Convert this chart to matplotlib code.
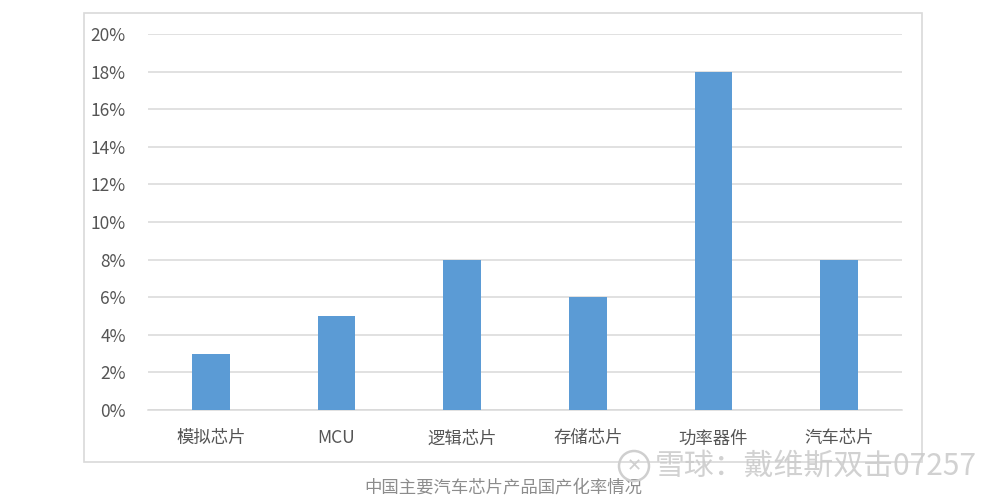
import matplotlib
matplotlib.use("Agg")
import matplotlib.pyplot as plt
from matplotlib.patches import Rectangle, Ellipse
from matplotlib.ticker import FuncFormatter, MultipleLocator

plt.rcParams['font.family'] = ['Noto Sans CJK SC', 'DejaVu Sans']

categories = ["模拟芯片", "MCU", "逻辑芯片", "存储芯片", "功率器件", "汽车芯片"]
values = [3, 5, 8, 6, 18, 8]
caption = "中国主要汽车芯片产品国产化率情况"
watermark = "雪球：戴维斯双击07257"

fig = plt.figure(figsize=(10.06, 5.0), dpi=100)
fig.patch.set_facecolor("white")

# outer chart border
fig.patches.append(Rectangle((0.0835, 0.076), 0.833, 0.898, transform=fig.transFigure,
                             fill=False, edgecolor="#d9d9d9", linewidth=1.2, zorder=0))

ax = fig.add_axes([0.1471, 0.18, 0.7495, 0.752])
x = range(len(categories))
ax.bar(x, values, width=0.30, color="#5B9BD5", zorder=3)
ax.set_xlim(-0.5, len(categories) - 0.5)
ax.set_ylim(0, 20)
ax.yaxis.set_major_locator(MultipleLocator(2))
ax.yaxis.set_major_formatter(FuncFormatter(lambda v, p: f"{int(v)}%"))
ax.grid(axis="y", color="#d9d9d9", linewidth=1.1, zorder=0)
ax.set_axisbelow(True)
for s in ["top", "right", "left"]:
    ax.spines[s].set_visible(False)
ax.spines["bottom"].set_color("#d9d9d9")
ax.spines["bottom"].set_linewidth(1.1)
ax.set_xticks(list(x))
ax.set_xticklabels(categories)
ax.tick_params(axis="both", length=0, colors="#555555", labelsize=12.5)
ax.tick_params(axis="x", pad=14)
ax.tick_params(axis="y", pad=16)

fig.text(0.5, 0.024, caption, ha="center", va="center", fontsize=12.5, color="#8c8c8c")

# watermark
cx, cy = 634 / 1006, 1 - 466 / 500
fig.patches.append(Ellipse((cx, cy), 30 / 1006, 30 / 500, transform=fig.transFigure,
                           fill=False, edgecolor="#cfcfcf", linewidth=1.8, zorder=5))
fig.text(cx, cy, "✕", ha="center", va="center", fontsize=13,
         color="#cfcfcf", family=["DejaVu Sans"])
fig.text(655 / 1006, cy, watermark, ha="left", va="center", fontsize=21.5,
         color="#cccccc", alpha=0.9)

fig.savefig("out.png", dpi=100)
